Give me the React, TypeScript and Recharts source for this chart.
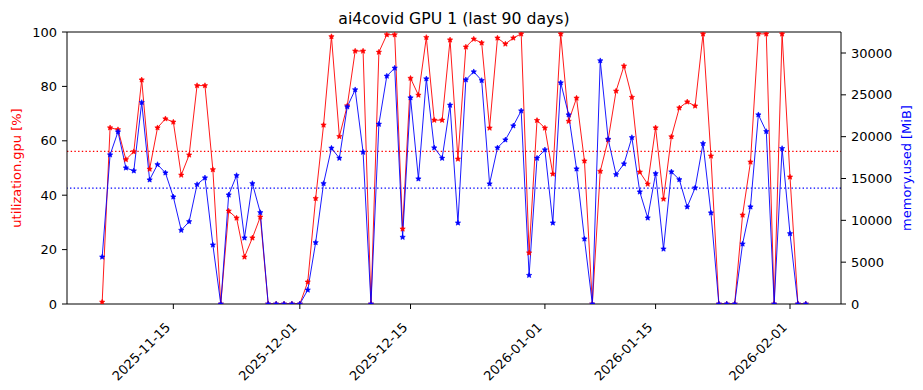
import React from 'react';
import { ComposedChart, Line, XAxis, YAxis, ReferenceLine } from 'recharts';

const startDate = '2025-11-06';
const tickDates = ['2025-11-15', '2025-12-01', '2025-12-15', '2026-01-01', '2026-01-15', '2026-02-01'];

const utilization = [
  0.7, 64.8, 64.1, 53.1, 56.0, 82.4, 49.6, 64.8, 68.1, 66.9, 47.4, 54.8, 80.3, 80.3, 49.4,
  0, 34.2, 31.6, 17.3, 24.3, 32.0, 0, 0, 0, 0, 0, 8.1, 38.8, 65.8, 98.3,
  61.6, 72.9, 93.0, 93.0, 0, 92.6, 99.0, 99.0, 27.6, 83.0, 76.8, 98.0, 67.6, 67.6, 97.1,
  53.3, 94.5, 97.4, 96.0, 64.7, 97.8, 95.6, 97.8, 99.3, 18.8, 67.5, 64.7, 47.8, 99.3, 67.2,
  75.7, 52.6, 0, 48.8, 60.4, 78.3, 87.5, 76.0, 48.5, 44.1, 64.8, 38.6, 61.5, 72.1, 74.3,
  72.8, 99.3, 54.4, 0, 0, 0, 32.7, 52.2, 99.3, 99.3, 0, 99.3, 46.7, 0, 0,
];

const memoryUsed = [
  5620, 17830, 20580, 16270, 15915, 24090, 14840, 16670, 15675, 12800, 8815, 9850, 14280, 15080, 7060,
  0, 13040, 15360, 7900, 14400, 10930, 0, 0, 0, 0, 0, 1675, 7340, 14400, 18630,
  17430, 23570, 25610, 18150, 0, 21500, 27240, 28200, 7980, 24650, 14960, 26920, 18670, 17430, 23770,
  9690, 26800, 27760, 26720, 14360, 18670, 19620, 21300, 23090, 3430, 17430, 18430, 9690, 26445, 22620,
  16150, 7780, 0, 29080, 19700, 15470, 16750, 19900, 13400, 10290, 15590, 6580, 15800, 14870, 11610,
  13880, 19180, 10890, 0, 0, 0, 7180, 11610, 22620, 20620, 0, 18590, 8410, 0, 0,
];

const utilMean = 56.1;
const memMean = 13845;
const memTotal = 32510;
const utilTicks = [0, 20, 40, 60, 80, 100];
const memTicks = [0, 5000, 10000, 15000, 20000, 25000, 30000];

const DAY = 86400000;
const dayIndex = (d: string) => Math.round((Date.parse(d) - Date.parse(startDate)) / DAY);

const data = utilization.map((u, i) => ({ day: i, util: u, mem: memoryUsed[i] }));
const xTicks = tickDates.map(dayIndex);
const labelFor: Record<number, string> = {};
tickDates.forEach((d) => { labelFor[dayIndex(d)] = d; });

const font = 'DejaVu Sans, sans-serif';

// small matplotlib-like '*' marker
const Star = ({ cx, cy, fill }: any) => {
  if (cx == null || cy == null) return null;
  const pts: string[] = [];
  for (let k = 0; k < 10; k++) {
    const r = k % 2 === 0 ? 2.8 : 1.3;
    const a = -Math.PI / 2 + (k * Math.PI) / 5;
    pts.push(`${cx + r * Math.cos(a)},${cy + r * Math.sin(a)}`);
  }
  return <polygon points={pts.join(' ')} fill={fill} stroke={fill} strokeWidth={0.6} />;
};

const DateTick = ({ x, y, payload }: any) => {
  const ax = x - 5.3;
  const ay = y + 14;
  return (
    <text x={ax} y={ay} transform={`rotate(-45 ${ax} ${ay})`} textAnchor="end" dominantBaseline="central"
      fontSize={13} fontFamily={font} fill="#000">
      {labelFor[payload.value]}
    </text>
  );
};

export default function App() {
  return (
    <div style={{ position: 'relative', width: 923, height: 390, background: '#fff', fontFamily: font }}>
      <style>{'body{margin:0}'}</style>
      <div style={{ position: 'absolute', left: 454, top: 18, transform: 'translate(-50%,-50%)', fontSize: 15.7, whiteSpace: 'nowrap' }}>
        ai4covid GPU 1 (last 90 days)
      </div>
      <div style={{ position: 'absolute', left: 16, top: 168, transform: 'translate(-50%,-50%) rotate(-90deg)', fontSize: 13, color: '#ff0000', whiteSpace: 'nowrap' }}>
        utilization.gpu [%]
      </div>
      <div style={{ position: 'absolute', left: 906, top: 168, transform: 'translate(-50%,-50%) rotate(-90deg)', fontSize: 13, color: '#0000ff', whiteSpace: 'nowrap' }}>
        memory.used [MiB]
      </div>
      <ComposedChart width={923} height={390} data={data} margin={{ top: 32, right: 0, bottom: 0, left: 0 }}>
        <XAxis dataKey="day" type="number" domain={[-4.45, 93.45]} ticks={xTicks} allowDataOverflow
          tick={<DateTick />} tickSize={5} height={86} stroke="#000" interval={0} />
        <YAxis yAxisId="left" domain={[0, 100]} ticks={utilTicks} width={67} tickSize={5} tickMargin={5}
          stroke="#000" tick={{ fill: '#000', fontSize: 13, fontFamily: font }} allowDataOverflow />
        <YAxis yAxisId="right" orientation="right" domain={[0, memTotal]} ticks={memTicks} width={82} tickSize={5}
          tickMargin={5} stroke="#000" tick={{ fill: '#000', fontSize: 13, fontFamily: font, textAnchor: 'start' }} allowDataOverflow />
        <ReferenceLine yAxisId="left" y={100} stroke="#000" strokeWidth={1} />
        <ReferenceLine yAxisId="left" y={utilMean} stroke="#ff0000" strokeWidth={1.2} strokeDasharray="1.4 2.3" />
        <Line yAxisId="left" dataKey="util" stroke="#ff0000" strokeWidth={0.9} dot={(p: any) => <Star key={`u${p.index}`} cx={p.cx} cy={p.cy} fill="#ff0000" />}
          activeDot={false} isAnimationActive={false} />
        <Line yAxisId="right" dataKey="mem" stroke="#0000ff" strokeWidth={0.9} dot={(p: any) => <Star key={`m${p.index}`} cx={p.cx} cy={p.cy} fill="#0000ff" />}
          activeDot={false} isAnimationActive={false} />
        <ReferenceLine yAxisId="right" y={memMean} stroke="#0000ff" strokeWidth={1.2} strokeDasharray="1.4 2.3" />
      </ComposedChart>
    </div>
  );
}
